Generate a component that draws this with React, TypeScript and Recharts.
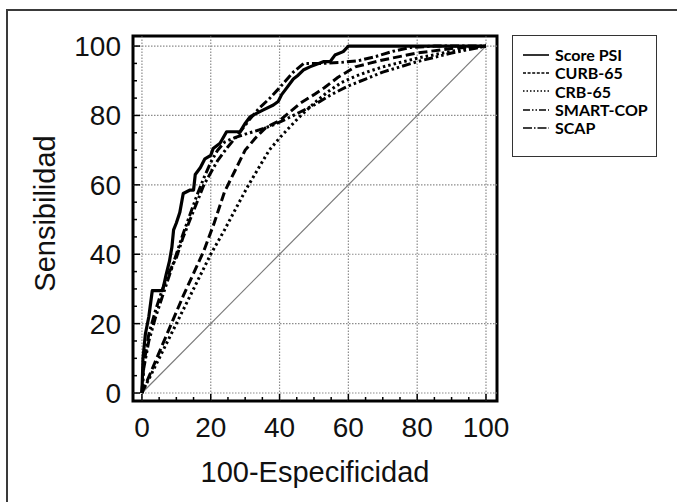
import React from 'react';
import { LineChart, Line, XAxis, YAxis, ReferenceLine, ReferenceArea, Legend, Label } from 'recharts';

// ROC curves, values as [100-Especificidad, Sensibilidad]
const scorePsi = [
  [0, 0], [0.3, 10], [1, 17], [2, 22], [3, 29.5], [6, 29.5], [7, 34], [8, 38], [8.7, 42], [9.2, 47],
  [10, 49], [11, 52], [12, 57.5], [14, 58.5], [15, 58.5], [15.5, 63], [17, 65], [18.3, 67.5],
  [20, 68.5], [20.7, 70.5], [22.7, 72], [24.6, 75.3], [28.5, 75.3], [30, 77.7], [31.4, 79.6],
  [33.3, 80.6], [35.3, 81.6], [38.2, 83], [39.6, 84], [40.6, 86], [41.6, 87.3], [44, 90.5],
  [45.4, 91.6], [46.9, 93.1], [48.8, 94], [52.7, 95.5], [54.7, 95.5], [56.1, 97.4], [58.5, 98.4],
  [60, 100], [100, 100],
];
const curb65 = [
  [0, 0], [3, 7], [6, 14], [9, 21], [12, 28], [15, 34.5], [18, 41], [21, 49], [24, 58], [27, 64],
  [30, 70], [33, 73.5], [36, 76.5], [40, 78.5], [43, 81], [46, 83.5], [50, 86], [53, 88], [57, 91],
  [62, 94], [66, 95], [70, 96], [80, 98], [90, 99.3], [100, 100],
];
const crb65 = [
  [0, 0], [4, 8], [8, 16], [12, 24], [16, 32], [20, 40], [24, 47], [28, 54.5], [31, 60], [34, 65],
  [37, 70], [40, 73.5], [43, 76.7], [46, 79.8], [50, 83.5], [54, 86.8], [58, 89.5], [62, 91.3],
  [66, 92.7], [70, 94], [80, 96.5], [90, 98.5], [100, 100],
];
const smartCop = [
  [0, 0], [0.5, 7], [2, 15], [4, 22], [6, 28], [8, 34], [10, 40], [12, 46], [14, 51.5], [16, 57],
  [18, 62], [20, 66.5], [22, 70], [24, 72.3], [27, 73.6], [30, 74.6], [34, 75.8], [38, 77.2],
  [42, 79], [46, 81], [50, 83], [55, 86], [60, 88.5], [65, 90.5], [70, 92.5], [80, 95.5],
  [90, 98], [100, 100],
];
const scap = [
  [0, 0], [0.5, 8], [2, 17], [4, 24], [6, 30], [8, 35], [10, 39], [12, 45], [14, 50], [16, 55],
  [18, 60], [20, 63.5], [22, 67], [25, 71], [28, 74.5], [31, 78.5], [34, 82], [37, 84.8], [40, 88],
  [44, 92.5], [47, 95], [52, 95], [58, 95.3], [63, 95.8], [68, 97], [73, 98.5], [78, 99.6],
  [85, 100], [100, 100],
];

const gridValues = [0, 20, 40, 60, 80, 100];
const tickValues = [0, 5, 10, 15, 20, 25, 30, 35, 40, 45, 50, 55, 60, 65, 70, 75, 80, 85, 90, 95, 100];

const series = [
  { name: 'Score PSI', data: scorePsi, dash: undefined, legendDash: undefined, width: 3.2 },
  { name: 'CURB-65', data: curb65, dash: '9 4', legendDash: '3 1.6', width: 3 },
  { name: 'CRB-65', data: crb65, dash: '2.5 3', legendDash: '1.5 2', width: 3 },
  { name: 'SMART-COP', data: smartCop, dash: '9 3 2.5 3 2.5 3', legendDash: '7 2 1.5 2 1.5 2', width: 3 },
  { name: 'SCAP', data: scap, dash: '9 3 2.5 3', legendDash: '9 2 1.5 2', width: 3 },
];

const PLOT_LEFT = 133;
const PLOT_BOTTOM = 401;
const AXIS_FONT = '"Liberation Sans", Arial, sans-serif';

const toPoints = (pairs: number[][]) => pairs.map(([x, y]) => ({ x, y }));

function YTick({ x, y, payload }: any) {
  const major = payload.value % 20 === 0;
  return (
    <g>
      <line x1={PLOT_LEFT} x2={PLOT_LEFT + (major ? 7 : 4)} y1={y} y2={y} stroke="#000" strokeWidth={1.5} />
      {major && (
        <text x={x} y={y + 10} textAnchor="end" fontFamily={AXIS_FONT} fontSize={28} fill="#111">
          {payload.value}
        </text>
      )}
    </g>
  );
}

function XTick({ x, payload }: any) {
  const major = payload.value % 20 === 0;
  return (
    <g>
      <line x1={x} x2={x} y1={PLOT_BOTTOM} y2={PLOT_BOTTOM - (major ? 7 : 4)} stroke="#000" strokeWidth={1.5} />
      {major && (
        <text x={x} y={PLOT_BOTTOM + 36} textAnchor="middle" fontFamily={AXIS_FONT} fontSize={28} fill="#111">
          {payload.value}
        </text>
      )}
    </g>
  );
}

const renderLegend = () => (
  <div
    style={{
      width: 145,
      height: 122,
      boxSizing: 'border-box',
      border: '1.8px solid #333',
      background: '#fff',
      padding: '9.5px 0 0 10px',
      fontFamily: 'Lato, sans-serif',
      fontWeight: 700,
      fontSize: 16,
      color: '#000',
    }}
  >
    {series.map((s) => (
      <div key={s.name} style={{ display: 'flex', alignItems: 'center', height: 18.3, whiteSpace: 'nowrap' }}>
        <svg width={26} height={8}>
          <line x1={0} x2={26} y1={4} y2={4} stroke="#000" strokeWidth={1.6} strokeDasharray={s.legendDash} />
        </svg>
        <span style={{ marginLeft: 6 }}>{s.name}</span>
      </div>
    ))}
  </div>
);

export default function App() {
  return (
    <div style={{ position: 'absolute', left: 0, top: 0, width: 677, height: 502, background: '#fff' }}>
      <div
        style={{
          position: 'absolute',
          left: 6,
          top: 9,
          width: 671,
          height: 493,
          boxSizing: 'border-box',
          borderLeft: '2px solid #3a3a3a',
          borderTop: '2px solid #3a3a3a',
        }}
      />
      <LineChart width={677} height={502} margin={{ top: 36, right: 180, bottom: 71, left: 73 }}>
        <XAxis
          type="number"
          dataKey="x"
          domain={[-2.6, 103.2]}
          allowDataOverflow
          ticks={tickValues}
          interval={0}
          axisLine={false}
          tickLine={false}
          tick={<XTick />}
          height={30}
        >
          <Label
            content={({ viewBox }: any) => (
              <text
                x={viewBox.x + viewBox.width / 2}
                y={viewBox.y + 81}
                textAnchor="middle"
                fontFamily={AXIS_FONT}
                fontSize={29}
                fill="#111"
              >
                100-Especificidad
              </text>
            )}
          />
        </XAxis>
        <YAxis
          type="number"
          dataKey="y"
          domain={[-2.3, 102.9]}
          allowDataOverflow
          ticks={tickValues}
          interval={0}
          axisLine={false}
          tickLine={false}
          tickMargin={6}
          tick={<YTick />}
          width={60}
        >
          <Label
            content={({ viewBox }: any) => {
              const cx = viewBox.x - 28;
              const cy = viewBox.y + viewBox.height / 2 - 5;
              return (
                <text
                  x={cx}
                  y={cy}
                  transform={`rotate(-90 ${cx} ${cy})`}
                  textAnchor="middle"
                  dominantBaseline="central"
                  fontFamily={AXIS_FONT}
                  fontSize={29}
                  fill="#111"
                >
                  Sensibilidad
                </text>
              );
            }}
          />
        </YAxis>

        {gridValues.map((v) => (
          <ReferenceLine key={`gx${v}`} x={v} stroke="#8c8c8c" strokeWidth={1.2} strokeDasharray="1.5 1.5" />
        ))}
        {gridValues.map((v) => (
          <ReferenceLine key={`gy${v}`} y={v} stroke="#8c8c8c" strokeWidth={1.2} strokeDasharray="1.5 1.5" />
        ))}

        <ReferenceLine
          segment={[{ x: 0, y: 0 }, { x: 100, y: 100 }]}
          stroke="#7a7a7a"
          strokeWidth={1.2}
        />

        {series.map((s) => (
          <Line
            key={s.name}
            name={s.name}
            data={toPoints(s.data)}
            dataKey="y"
            type="linear"
            stroke="#000"
            strokeWidth={s.width}
            strokeDasharray={s.dash}
            strokeLinejoin="round"
            dot={false}
            activeDot={false}
            isAnimationActive={false}
          />
        ))}

        <ReferenceArea
          x1={-2.6}
          x2={103.2}
          y1={-2.3}
          y2={102.9}
          fill="none"
          fillOpacity={0}
          stroke="#000"
          strokeWidth={3}
        />

        <Legend
          layout="horizontal"
          verticalAlign="middle"
          align="center"
          content={renderLegend}
          wrapperStyle={{ left: 512, top: 35, width: 145, height: 122 }}
        />
      </LineChart>
    </div>
  );
}
